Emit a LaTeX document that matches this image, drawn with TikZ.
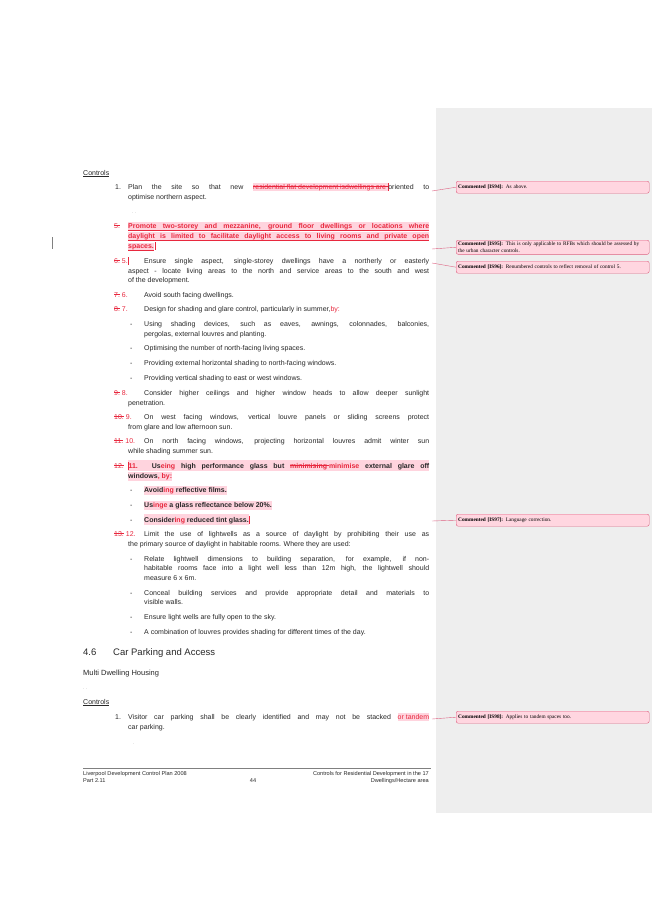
\documentclass[tikz,border=0pt]{standalone}
\usepackage{fontspec}
\setmainfont{Liberation Sans}
\newfontfamily\cmtfont{Liberation Serif}
\usepackage{xcolor}
\definecolor{chg}{RGB}{232,40,62}
\definecolor{hlpink}{RGB}{255,212,222}
\definecolor{pane}{RGB}{238,238,238}
\definecolor{cmtfill}{RGB}{255,214,224}
\definecolor{cmtline}{RGB}{222,96,128}
\definecolor{bodytxt}{RGB}{40,40,40}
\setlength{\fboxsep}{0pt}
\newcommand{\hlstrut}{\rule[-1.6pt]{0pt}{7.4pt}}
\newcommand{\stk}[1]{\sbox0{\color{chg}#1}\rlap{\color{chg}\rule[2.4pt]{\wd0}{0.4pt}}\usebox0}
\newcommand{\dl}[1]{\colorbox{hlpink}{\hlstrut\stk{#1}}}
\newcommand{\ins}[1]{\colorbox{hlpink}{\hlstrut\textcolor{chg}{#1}}}
\newcommand{\mk}{\textcolor{chg}{\rule[-1.5pt]{0.3pt}{8pt}}}
% one justified line and one plain line of body text
\newcommand{\jl}[4]{\node[txt] (#1) at (#2,#3) {\makebox[\dimexpr429pt-#2pt\relax][s]{#4}};}
\newcommand{\pl}[4]{\node[txt] (#1) at (#2,#3) {#4};}

\begin{document}
\begin{tikzpicture}[x=1pt,y=-1pt,
    txt/.style={anchor=base west,inner sep=0pt,font=\fontsize{7}{8}\selectfont,text=bodytxt},
    hl/.style={fill=hlpink,inner ysep=1.4pt},
    strike/.style={chg,line width=0.4pt},
    cmt/.style={draw=cmtline,fill=cmtfill,rounded corners=2pt,anchor=north west,text width=189pt,
      inner sep=2pt,align=left,font=\cmtfont\fontsize{5.3}{6.4}\selectfont,minimum height=12pt},
    cline/.style={cmtline,line width=0.4pt}]
    \useasboundingbox (0,0) rectangle (653,923);
    \fill[white] (0,0) rectangle (653,923);
    \fill[pane] (436,108) rectangle (652,813);
    \draw[gray] (52,237) -- (52,249);

    \node[txt] (ctl1) at (83,175) {\underline{Controls}};
    \pl{n1}{115}{189}{1.}
    \jl{l1a}{128}{189}{Plan the site so that new \dl{residential flat development isdwellings are }\mk oriented to}
    \pl{l1b}{128}{199}{optimise northern aspect.}
    \node[txt,font=\fontsize{4}{4}\selectfont,text=gray] (dots1) at (132,213) {. .};

    \pl{n5}{114}{228}{\stk{5.}}
    \node[txt,hl] (l5a) at (128,228) {\makebox[301pt][s]{\color{chg}\bfseries Promote two-storey and mezzanine, ground floor dwellings or locations where}};
    \node[txt,hl] (l5b) at (128,238) {\makebox[301pt][s]{\color{chg}\bfseries daylight is limited to facilitate daylight access to living rooms and private open}};
    \node[txt,hl] (l5c) at (128,248) {\color{chg}\bfseries spaces.};
    \foreach \l in {l5a,l5b,l5c}
      \draw[strike] ([yshift=-2.4pt]\l.base west) -- ([yshift=-2.4pt]\l.base east);
    \node[txt,anchor=base west] (mk5) at (l5c.base east) {\mk};

    \pl{n6}{114}{263}{\stk{6.} \textcolor{chg}{5.}\mk}
    \jl{l6a}{144}{263}{Ensure single aspect, single-storey dwellings have a northerly or easterly}
    \jl{l6b}{128}{273}{aspect - locate living areas to the north and service areas to the south and west}
    \pl{l6c}{128}{282}{of the development.}

    \pl{n7}{114}{297}{\stk{7.} \textcolor{chg}{6.}}
    \pl{l7a}{144}{297}{Avoid south facing dwellings.}
    \pl{n8}{114}{311}{\stk{8.} \textcolor{chg}{7.}}
    \pl{l8a}{144}{311}{Design for shading and glare control, particularly in summer,\textcolor{chg}{ by:}}

    \foreach \y in {326,350,365,380} \node[txt] at (130,\y) {-};
    \jl{b1a}{144}{326}{Using shading devices, such as eaves, awnings, colonnades, balconies,}
    \pl{b1b}{144}{336}{pergolas, external louvres and planting.}
    \pl{b2a}{144}{350}{Optimising the number of north-facing living spaces.}
    \pl{b3a}{144}{365}{Providing external horizontal shading to north-facing windows.}
    \pl{b4a}{144}{380}{Providing vertical shading to east or west windows.}

    \pl{n9}{114}{395}{\stk{9.} \textcolor{chg}{8.}}
    \jl{l9a}{144}{395}{Consider higher ceilings and higher window heads to allow deeper sunlight}
    \pl{l9b}{128}{405}{penetration.}
    \pl{n10}{114}{419}{\stk{10.} \textcolor{chg}{9.}}
    \jl{l10a}{144}{419}{On west facing windows, vertical louvre panels or sliding screens protect}
    \pl{l10b}{128}{429}{from glare and low afternoon sun.}
    \pl{n11}{114}{443}{\stk{11.} \textcolor{chg}{10.}}
    \jl{l11a}{144}{443}{On north facing windows, projecting horizontal louvres admit winter sun}
    \pl{l11b}{128}{453}{while shading summer sun.}

    \pl{n12}{114}{468}{\stk{12.}}
    \node[txt,hl] (l12a) at (128,468) {\makebox[301pt][s]{\bfseries\mk\textcolor{chg}{11.} Us\textcolor{chg}{eing} high performance glass but \dl{minimising }\textcolor{chg}{minimise} external glare off}};
    \node[txt,hl] (l12b) at (128,478) {\bfseries windows\textcolor{chg}{, by:}};
    \foreach \y in {492,507,522} \node[txt] at (130,\y) {-};
    \node[txt,hl] (c1) at (144,492) {\bfseries Avoid\textcolor{chg}{ing} reflective films.};
    \node[txt,hl] (c2) at (144,507) {\bfseries Us\textcolor{chg}{inge} a glass reflectance below 20\%.};
    \node[txt,hl] (c3) at (144,522) {\bfseries Consider\textcolor{chg}{ing} reduced tint glass.\mk};

    \pl{n13}{114}{536}{\stk{13.} \textcolor{chg}{12.}}
    \jl{l13a}{144}{536}{Limit the use of lightwells as a source of daylight by prohibiting their use as}
    \pl{l13b}{128}{546}{the primary source of daylight in habitable rooms. Where they are used:}
    \foreach \y in {561,595,619,634} \node[txt] at (130,\y) {-};
    \jl{d1a}{144}{561}{Relate lightwell dimensions to building separation, for example, if non-}
    \jl{d1b}{144}{570}{habitable rooms face into a light well less than 12m high, the lightwell should}
    \pl{d1c}{144}{580}{measure 6 x 6m.}
    \jl{d2a}{144}{595}{Conceal building services and provide appropriate detail and materials to}
    \pl{d2b}{144}{604}{visible walls.}
    \pl{d3a}{144}{619}{Ensure light wells are fully open to the sky.}
    \pl{d4a}{144}{634}{A combination of louvres provides shading for different times of the day.}

    \node[txt,font=\fontsize{9.5}{11}\selectfont] (h46) at (83,655) {4.6};
    \node[txt,font=\fontsize{9.5}{11}\selectfont] (h46t) at (113,655) {Car Parking and Access};
    \node[txt,font=\fontsize{7.5}{9}\selectfont] (mdh) at (83,675) {Multi Dwelling Housing};
    \node[txt,font=\fontsize{4}{4}\selectfont,text=gray] (dots2) at (83,689) {. .};
    \node[txt] (ctl2) at (83,704) {\underline{Controls}};
    \pl{m1}{115}{719}{1.}
    \jl{m1a}{128}{719}{Visitor car parking shall be clearly identified and may not be stacked \ins{or tandem}}
    \pl{m1b}{128}{729}{car parking.}
    \node[txt,font=\fontsize{4}{4}\selectfont,text=gray] (dots3) at (133,744) {.};

    % footer
    \coordinate (fl) at (83,768);
    \coordinate (fr) at (431,768);
    \draw[gray,line width=0.4pt] (fl) -- (fr);
    \begin{scope}[every node/.style={inner sep=0pt,font=\fontsize{5.6}{6}\selectfont,text=bodytxt}]
      \node[anchor=base west] (f1) at (83,775) {Liverpool Development Control Plan 2008};
      \node[anchor=base west] (f2) at (83,782) {Part 2.11};
      \node[anchor=base] (f3) at (253,782) {44};
      \node[anchor=base east] (f4) at (429,775) {Controls for Residential Development in the 17};
      \node[anchor=base east] (f5) at (429,782) {Dwellings/Hectare area};
    \end{scope}

    % comments
    \node[cmt] (cm94) at (456,181) {\textbf{Commented [IS94]:} As above.};
    \node[cmt] (cm95) at (456,240) {\textbf{Commented [IS95]:} This is only applicable to RFBs which should be assessed by the urban character controls.};
    \node[cmt] (cm96) at (456,261) {\textbf{Commented [IS96]:} Renumbered controls to reflect removal of control 5.};
    \node[cmt] (cm97) at (456,514) {\textbf{Commented [IS97]:} Language correction.};
    \node[cmt] (cm98) at (456,711) {\textbf{Commented [IS98]:} Applies to tandem spaces too.};
    \coordinate (a94) at (432,191);
    \coordinate (a95) at (432,249);
    \coordinate (a96) at (432,263);
    \coordinate (a97) at (432,521);
    \coordinate (a98) at (432,719);
    \foreach \c in {94,95,96,97,98}
      \draw[cline] (a\c) -- (cm\c.west);
\end{tikzpicture}
\end{document}
